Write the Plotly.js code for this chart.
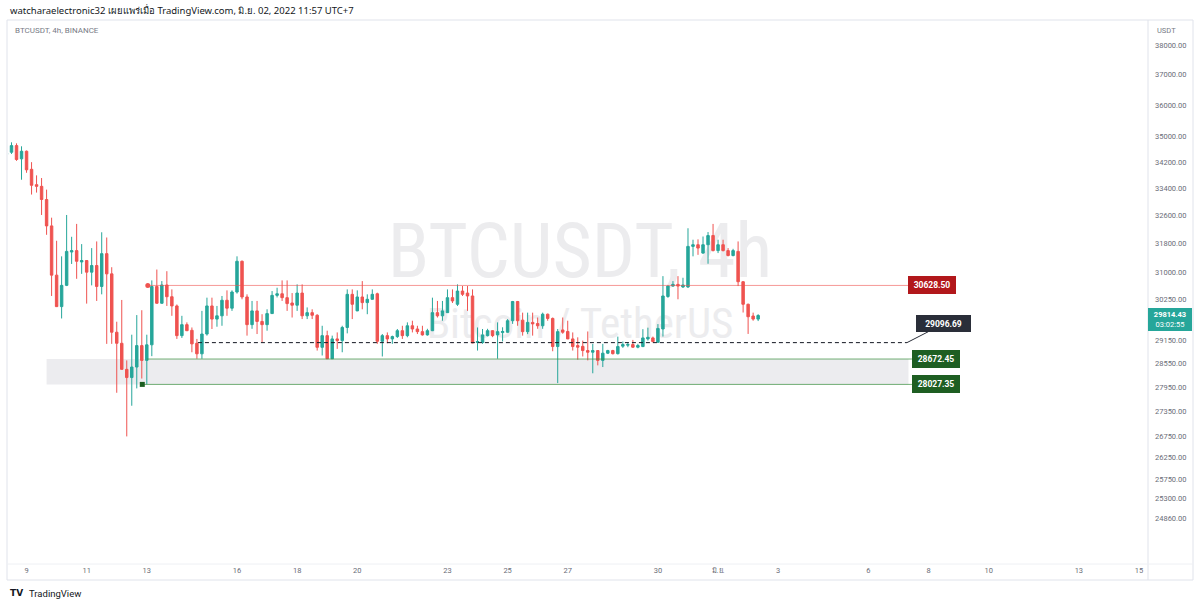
<!DOCTYPE html>
<html><head><meta charset="utf-8">
<script src="https://cdn.plot.ly/plotly-3.0.1.min.js"></script>
<style>html,body{margin:0;padding:0;background:#fff;}#chart{width:1200px;height:607px;}</style>
</head><body><div id="chart"></div>
<script>
// ---- data (BTCUSDT 4h, BINANCE, bars from 2022-05-08 11:00 UTC+7) ----
const openP = [34450,34514,34720,34310,34545,33990,33525,33475,33081,32308,30912,30052,30630,31560,31600,31280,31320,30995,31180,30600,
31514,30948,29370,29080,28408,28200,28467,29020,28637,29040,30600,30143,30640,30320,30070,29280,29570,29420,29080,28807,
29322,30070,29718,29805,30224,30010,30448,31299,30313,29570,29937,29655,29570,29865,30357,30400,30294,30150,30090,30420,
29805,29890,29820,28975,29280,28680,29194,29150,29495,30385,29937,30313,30160,30250,30400,29132,29280,29194,29255,29410,
29280,29540,29455,29385,29300,29410,29890,29805,29890,30294,30115,30474,30420,30340,29100,29100,29280,29410,29300,29360,
29370,29674,30190,29690,29385,29630,29600,29540,29848,29735,28995,29430,29390,29194,29021,29000,28891,28848,28891,28637,
28823,28891,28810,29005,29030,29047,28978,28995,29194,29220,29105,29455,30325,30611,30657,30585,30585,31720,31767,31530,
31767,32030,31600,31767,31600,31460,31578,30730,30115,29800,29718];
const highP = [34560,34822,34791,34698,34567,34208,33806,33725,33376,32547,31880,31438,32626,31994,32366,31785,31330,31671,31861,32124,
31974,31133,29648,30232,28637,29305,29825,29955,29305,30767,31068,30748,31022,30520,30110,29805,29630,29495,29194,29937,
30294,30294,30070,30340,30493,30493,31438,31320,30385,30205,30205,29848,29980,30474,30565,30767,30767,30420,30657,30657,
30030,29980,29848,29540,29410,29280,29365,29540,30520,30520,30493,30748,30385,30520,30430,29322,29365,29280,29455,29540,
29630,29674,29540,29540,29460,30294,30205,30205,30520,30520,30657,30612,30612,30520,29495,29455,29460,29420,29630,29500,
29718,30205,30205,29890,29890,29890,29760,29890,29865,29760,29455,29760,29674,29365,29236,29150,29390,29065,28900,29065,
28910,28910,29254,29125,29105,29168,29065,29450,29490,29255,29585,30885,30625,30748,30885,30840,32240,31910,31920,32002,
32130,32365,31910,31910,31671,31650,31861,30748,30133,29890,29848];
const lowP = [34400,34462,34248,33674,33884,33229,33288,32626,32051,30340,30040,29734,30610,31224,30811,30948,30133,30630,30205,30385,
29065,29065,27818,28400,26750,27496,27927,28175,28027.35,28746,30130,30130,30070,29805,29194,29220,29400,28847,28680,28680,
29280,29455,29515,29540,29805,29937,30405,30250,29280,29460,29322,29105,29410,29860,30300,30205,29937,29760,29937,29718,
29718,29718,28891,28764,28672,28672,28935,28847,29340,29718,29930,29980,29848,30240,29065,28738,29080,29065,29220,29194,
29237,29365,29322,29280,29280,29400,29760,29674,29880,30150,30070,30340,29937,29080,28891,29065,29260,29240,28680,29130,
29360,29590,29540,29280,29320,29280,29460,29460,29674,28873,28060,29330,29190,28891,28655,28738,28637,28308,28510,28467,
28800,28790,28790,28960,28978,28960,28950,28980,29150,29105,29100,29255,30290,30590,30250,30560,30560,31438,31480,31510,
31230,31578,31530,31578,31438,31438,30611,29893,29325,29674,29665];
const closeP = [34480,34720,34290,34545,33975,33506,33475,33081,32308,30912,30052,30630,31578,31600,31299,31320,30995,31180,30600,31514,
30948,29370,29080,28408,28200,28467,29020,28637,29040,30600,30143,30640,30320,30070,29280,29570,29410,29065,28807,29322,
30070,29718,29805,30224,30010,30448,31299,30313,29570,29937,29655,29570,29865,30357,30400,30294,30133,30090,30420,29805,
29890,29820,28975,29280,28680,29194,29150,29495,30385,30115,30313,30160,30250,30385,29132,29280,29194,29255,29410,29280,
29540,29455,29385,29300,29410,29890,29805,29937,30294,30205,30474,30385,30340,29090,29125,29300,29410,29280,29385,29390,
29674,30190,29674,29385,29630,29590,29540,29848,29735,28995,29385,29370,29194,28995,28978,28891,28848,28891,28637,28823,
28891,28810,28995,29047,29047,28978,29021,29220,29236,29125,29470,30340,30611,30657,30611,30640,31720,31767,31672,31767,
32030,31600,31767,31600,31460,31600,30730,30115,29780,29718,29814.43];

const dayTickDays = ['2022-05-09','2022-05-11','2022-05-13','2022-05-16','2022-05-18','2022-05-20','2022-05-23','2022-05-25','2022-05-27','2022-05-30','2022-06-01','2022-06-03','2022-06-06','2022-06-08','2022-06-10','2022-06-13','2022-06-15'];
const dayTickText = ['9','11','13','16','18','20','23','25','27','30','มิ.ย.','3','6','8','10','13','15'];
const priceTicks = [38000,37000,36000,35000,34200,33400,32600,31800,31000,30250,29150,28550,27950,27350,26750,26250,25750,25300,24860];

const resistance = 30628.50;
const pivot = 29096.69;
const supportTop = 28672.45;
const supportBottom = 28027.35;
const lastPrice = 29814.43;
const countdown = '03:02:55';

// ---- helpers ----
const t0 = Date.UTC(2022,4,8,11,0);
const HOUR = 3600e3;
function fmt(ms){const d=new Date(ms);const p=n=>String(n).padStart(2,'0');
  return d.getUTCFullYear()+'-'+p(d.getUTCMonth()+1)+'-'+p(d.getUTCDate())+' '+p(d.getUTCHours())+':'+p(d.getUTCMinutes());}
const atBar = k => fmt(t0 + k*4*HOUR);
const times = openP.map((_,i)=>atBar(i));
const L = Math.log10;
// paper coordinates from page pixels (plot area: x 8..1148, y 22..564)
const px = x => (x-8)/1140;
const py = y => (564-y)/542;

const FONT = 'Roboto, "Liberation Sans", "Noto Sans", sans-serif';
const WM = '"Liberation Sans Narrow", "Roboto Condensed", "Liberation Sans", sans-serif';

const traces = [
  {type:'candlestick', x:times, open:openP, high:highP, low:lowP, close:closeP,
   increasing:{line:{color:'#26a69a',width:1},fillcolor:'#26a69a'},
   decreasing:{line:{color:'#ef5350',width:1},fillcolor:'#ef5350'},
   whiskerwidth:0, hoverinfo:'skip', showlegend:false},
  {type:'scatter', mode:'lines', x:[atBar(28),atBar(180)], y:[resistance,resistance],
   line:{color:'rgba(239,83,80,0.6)',width:1}, hoverinfo:'skip', showlegend:false},
  {type:'scatter', mode:'lines', x:[atBar(28),atBar(180.7)], y:[supportTop,supportTop],
   line:{color:'rgba(56,142,60,0.7)',width:1}, hoverinfo:'skip', showlegend:false},
  {type:'scatter', mode:'lines', x:[atBar(27),atBar(180.7)], y:[supportBottom,supportBottom],
   line:{color:'rgba(56,142,60,0.7)',width:1}, hoverinfo:'skip', showlegend:false},
  {type:'scatter', mode:'lines', x:[atBar(38.2),atBar(179.7)], y:[pivot,pivot],
   line:{color:'#131722',width:1,dash:'4px,3px'}, hoverinfo:'skip', showlegend:false},
  {type:'scatter', mode:'markers', x:[atBar(28.2)], y:[resistance],
   marker:{symbol:'circle',size:5,color:'#ef5350'}, hoverinfo:'skip', showlegend:false},
  {type:'scatter', mode:'markers', x:[atBar(27.1)], y:[supportBottom],
   marker:{symbol:'square',size:5,color:'#1b5e20'}, hoverinfo:'skip', showlegend:false}
];

function levelLabel(text, k, price, bg){
  return {xref:'x', yref:'y', x:atBar(k), y:L(price), text:'<b>'+text+'</b>', showarrow:false,
    xanchor:'left', yanchor:'middle', bgcolor:bg, bordercolor:bg, borderwidth:1, borderpad:2,
    width:42, height:12, font:{family:FONT,size:8.5,color:'#ffffff'}};
}

const annotations = [
  {xref:'paper',yref:'paper',x:px(8),y:py(10),xanchor:'left',yanchor:'middle',showarrow:false,
   text:'watcharaelectronic32 เผยแพร่เมื่อ TradingView.com, มิ.ย. 02, 2022 11:57 UTC+7',
   font:{family:'"Noto Sans", "DejaVu Sans", sans-serif',size:9.5,color:'#131722'}},
  {xref:'paper',yref:'paper',x:px(13),y:py(30),xanchor:'left',yanchor:'middle',showarrow:false,
   text:'BTCUSDT, 4h, BINANCE', font:{family:FONT,size:8,color:'#787b86'}},
  {xref:'paper',yref:'paper',x:px(1155),y:py(30),xanchor:'left',yanchor:'middle',showarrow:false,
   text:'USDT', font:{family:FONT,size:7.5,color:'#787b86'}},
  levelLabel(resistance.toFixed(2), 179.9, resistance, '#b2171b'),
  levelLabel(supportTop.toFixed(2), 180.7, supportTop, '#1e5e22'),
  levelLabel(supportBottom.toFixed(2), 180.7, supportBottom, '#1e5e22'),
  {xref:'x', yref:'y', x:atBar(179.7), y:L(pivot), text:'<b>'+pivot.toFixed(2)+'</b>', showarrow:true,
   arrowhead:0, arrowwidth:1, arrowcolor:'#2a2e39', ax:37, ay:-19, standoff:0,
   bgcolor:'#2a2e39', bordercolor:'#2a2e39', borderwidth:1, borderpad:2, width:49, height:11,
   font:{family:FONT,size:8.5,color:'#ffffff'}},
  {xref:'paper', yref:'y', x:1, y:L(lastPrice), xanchor:'left', yanchor:'middle', yshift:-4, showarrow:false,
   text:'<b>'+lastPrice.toFixed(2)+'</b><br>'+countdown, bgcolor:'#26a69a', bordercolor:'#26a69a', borderpad:1,
   width:40, align:'center', font:{family:FONT,size:7.5,color:'#ffffff'}},
  {xref:'paper',yref:'paper',x:px(8),y:py(593),xanchor:'left',yanchor:'middle',showarrow:false,
   text:'<b>TV</b>', font:{family:'"DejaVu Sans", sans-serif',size:9,color:'#131722'}},
  {xref:'paper',yref:'paper',x:px(27),y:py(593),xanchor:'left',yanchor:'middle',showarrow:false,
   text:'TradingView', font:{family:FONT,size:9.5,color:'#131722'}}
];

const shapes = [
  // watermark (below candles)
  {type:'rect', layer:'below', xref:'paper', yref:'paper', x0:px(300), x1:px(860), y0:py(280), y1:py(212),
   line:{width:0}, fillcolor:'rgba(0,0,0,0)',
   label:{text:'BTCUSDT, 4h', textposition:'middle center', font:{family:WM,size:76,color:'#ececee'}}},
  {type:'rect', layer:'below', xref:'paper', yref:'paper', x0:px(380), x1:px(780), y0:py(340), y1:py(300),
   line:{width:0}, fillcolor:'rgba(0,0,0,0)',
   label:{text:'Bitcoin / TetherUS', textposition:'middle center', font:{family:WM,size:43,color:'#ececee'}}},
  // support zone
  {type:'rect', layer:'below', xref:'x', yref:'y', x0:atBar(8), x1:atBar(180), y0:supportBottom, y1:supportTop,
   line:{width:0}, fillcolor:'#ececef'},
  // panel frame
  {type:'rect', xref:'paper', yref:'paper', x0:px(7), x1:px(1193), y0:py(580), y1:py(20),
   line:{color:'#e0e3eb',width:1}, fillcolor:'rgba(0,0,0,0)'},
  {type:'line', xref:'paper', yref:'paper', x0:1, x1:1, y0:py(580), y1:py(20), line:{color:'#e0e3eb',width:1}},
  {type:'line', xref:'paper', yref:'paper', x0:px(7), x1:px(1193), y0:0, y1:0, line:{color:'#eef0f4',width:1}}
];

const layout = {
  width:1200, height:607, margin:{l:8,r:52,t:22,b:43,pad:0},
  paper_bgcolor:'#ffffff', plot_bgcolor:'#ffffff', showlegend:false,
  font:{family:FONT,color:'#131722'},
  xaxis:{type:'date', range:[atBar(0.3),atBar(227.8)], rangeslider:{visible:false},
    tickmode:'array', tickvals:dayTickDays.map(d=>d+' 03:00'), ticktext:dayTickText,
    showgrid:false, zeroline:false, showline:false, ticks:'',
    tickfont:{family:FONT,size:7.5,color:'#6a6d78'}, fixedrange:true},
  yaxis:{type:'log', side:'right', range:[L(23858),L(38790)],
    tickmode:'array', tickvals:priceTicks, ticktext:priceTicks.map(v=>v.toFixed(2)),
    showgrid:false, zeroline:false, showline:false, ticks:'', ticklabelstandoff:6,
    tickfont:{family:FONT,size:7.5,color:'#6a6d78'}, fixedrange:true},
  annotations, shapes
};

Plotly.newPlot('chart', traces, layout, {staticPlot:true, displayModeBar:false});
</script></body></html>
